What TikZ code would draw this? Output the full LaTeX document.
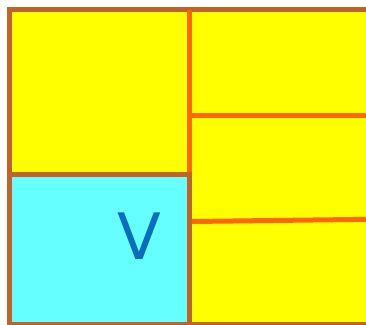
\documentclass[tikz,border=0pt]{standalone}
\usepackage{fontspec}
\newfontfamily\vfont{DejaVu Sans}
\definecolor{brownb}{HTML}{C0622A}
\definecolor{orangel}{HTML}{FF6600}
\definecolor{yel}{HTML}{FFFF00}
\definecolor{cy}{HTML}{66FFFF}
\definecolor{vblue}{HTML}{0A6EBD}
\begin{document}
\begin{tikzpicture}[x=1pt,y=-1pt,
  box/.style={draw=brownb,line width=5pt},
  divider/.style={draw=orangel,line width=5pt}]
\useasboundingbox (0,0) rectangle (366,324);
\path[box,fill=yel] (9.5,9.5) rectangle (385,324.5);
\draw[divider] (189.5,10) -- (189.5,174);
\draw[divider] (192,115.3) -- (385,115.3);
\draw[divider] (192,221.5) -- (385,219.1);
\path[box,fill=cy] (9.5,174.5) rectangle (189.5,324.5);
\node[text=vblue,font=\vfont\fontsize{64}{64}\selectfont,inner sep=0pt] (v) at (139,236.5) {V};
\end{tikzpicture}
\end{document}
